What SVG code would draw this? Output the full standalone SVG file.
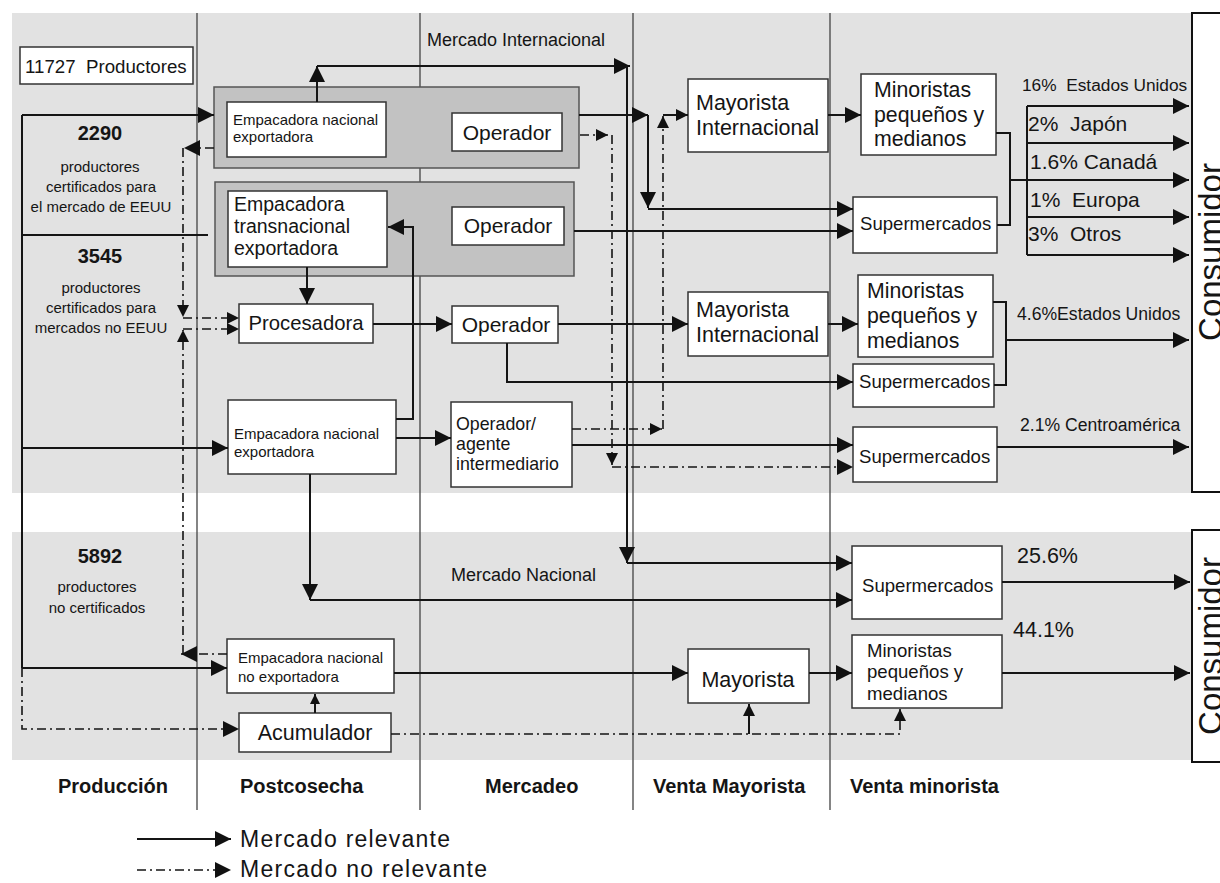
<svg xmlns="http://www.w3.org/2000/svg" width="1220" height="883" viewBox="0 0 1220 883">
<style>
text{font-family:"Liberation Sans",Arial,sans-serif;fill:#151515}
.band{fill:#e2e2e2}
.col{stroke:#444;stroke-width:1.3;fill:none}
.gb{fill:#c2c2c2;stroke:#555;stroke-width:1.5}
.wb{fill:#fff;stroke:#333;stroke-width:1.5}
.cb{fill:#fff;stroke:#111;stroke-width:2}
.s{stroke:#151515;stroke-width:2;fill:none}
.d{stroke:#151515;stroke-width:1.6;fill:none;stroke-dasharray:9 4 2 4}
.b{font-weight:bold}
.f15{font-size:15px}
.f173{font-size:17.3px}
.f176{font-size:17.6px}
.f178{font-size:17.8px}
.f18{font-size:18px}
.f186{font-size:18.6px}
.f187{font-size:18.7px}
.f195{font-size:19.5px}
.f20{font-size:20px}
.f203{font-size:20.3px}
.f21{font-size:21px}
.f213{font-size:21.3px}
.f215{font-size:21.5px}
.hd{font-size:20px;font-weight:bold}
.cons{font-size:33px}
.leg{font-size:23px}
</style>
<defs>
<marker id="ab" markerUnits="userSpaceOnUse" markerWidth="17" markerHeight="16" refX="16" refY="8" orient="auto"><path d="M0,0 L16,8 L0,16 z" fill="#111"/></marker>
<marker id="as" markerUnits="userSpaceOnUse" markerWidth="13" markerHeight="12" refX="12" refY="6" orient="auto"><path d="M0,0 L12,6 L0,12 z" fill="#111"/></marker>
<marker id="at" markerUnits="userSpaceOnUse" markerWidth="11" markerHeight="10" refX="10" refY="5" orient="auto"><path d="M0,0 L10,5 L0,10 z" fill="#111"/></marker>
</defs>

<g id="background">
<rect class="band" x="12" y="13" width="1180" height="480"/>
<rect class="band" x="12" y="532" width="1180" height="228"/>
<path class="col" d="M197,13 V810 M420,13 V810 M633,13 V810 M830,13 V810"/>
</g>

<g id="consumidor-top">
<rect class="cb" x="1192" y="13" width="40" height="479"/>
<text class="cons" transform="translate(1222,252) rotate(-90)" text-anchor="middle">Consumidor</text>
</g>
<g id="consumidor-bottom">
<rect class="cb" x="1192" y="530" width="40" height="232"/>
<text class="cons" transform="translate(1222,646) rotate(-90)" text-anchor="middle">Consumidor</text>
</g>

<g id="productores">
<rect class="wb" x="20" y="47" width="173" height="37"/>
<text class="f187" x="25" y="73">11727&#160; Productores</text>
</g>
<g id="prod-2290">
<text class="b f20" x="100" y="140" text-anchor="middle">2290</text>
<text class="f15" x="100" y="172" text-anchor="middle">productores</text>
<text class="f15" x="101" y="192" text-anchor="middle">certificados para</text>
<text class="f15" x="101" y="212" text-anchor="middle">el mercado de EEUU</text>
</g>
<g id="prod-3545">
<text class="b f20" x="100" y="263" text-anchor="middle">3545</text>
<text class="f15" x="101" y="293" text-anchor="middle">productores</text>
<text class="f15" x="101" y="313" text-anchor="middle">certificados para</text>
<text class="f15" x="101" y="333" text-anchor="middle">mercados no EEUU</text>
</g>
<g id="prod-5892">
<text class="b f20" x="100" y="563" text-anchor="middle">5892</text>
<text class="f15" x="97" y="592" text-anchor="middle">productores</text>
<text class="f15" x="97" y="613" text-anchor="middle">no certificados</text>
</g>

<g id="grupo-nacional-exp">
<rect class="gb" x="214" y="87" width="365" height="81"/>
</g>
<g id="grupo-transnacional">
<rect class="gb" x="215" y="182" width="359" height="94"/>
</g>
<g id="empacadora-nac-exp-1">
<rect class="wb" x="227" y="102" width="159" height="55"/>
<text class="f15" x="233" y="125">Empacadora nacional</text>
<text class="f15" x="233" y="142">exportadora</text>
</g>
<g id="operador-1">
<rect class="wb" x="452" y="113" width="110" height="38"/>
<text class="f21" x="507" y="140" text-anchor="middle">Operador</text>
</g>
<g id="empacadora-transnacional">
<rect class="wb" x="228" y="191" width="159" height="76"/>
<text class="f195" x="234" y="211">Empacadora</text>
<text class="f195" x="234" y="233">transnacional</text>
<text class="f195" x="234" y="255">exportadora</text>
</g>
<g id="operador-2">
<rect class="wb" x="452" y="207" width="112" height="38"/>
<text class="f21" x="508" y="233" text-anchor="middle">Operador</text>
</g>
<g id="procesadora">
<rect class="wb" x="239" y="304" width="134" height="39"/>
<text class="f203" x="306" y="330" text-anchor="middle">Procesadora</text>
</g>
<g id="operador-3">
<rect class="wb" x="452" y="306" width="106" height="37"/>
<text class="f21" x="506" y="332" text-anchor="middle">Operador</text>
</g>
<g id="empacadora-nac-exp-2">
<rect class="wb" x="228" y="400" width="168" height="74"/>
<text class="f15" x="234" y="439">Empacadora nacional</text>
<text class="f15" x="234" y="457">exportadora</text>
</g>
<g id="operador-agente">
<rect class="wb" x="451" y="402" width="121" height="85"/>
<text class="f178" x="456" y="430">Operador/</text>
<text class="f178" x="456" y="450">agente</text>
<text class="f178" x="456" y="470">intermediario</text>
</g>
<g id="mayorista-int-1">
<rect class="wb" x="688" y="79" width="140" height="73"/>
<text class="f215" x="696" y="110">Mayorista</text>
<text class="f215" x="696" y="135">Internacional</text>
</g>
<g id="mayorista-int-2">
<rect class="wb" x="688" y="292" width="140" height="64"/>
<text class="f215" x="696" y="317">Mayorista</text>
<text class="f215" x="696" y="342">Internacional</text>
</g>
<g id="minoristas-1">
<rect class="wb" x="861" y="74" width="135" height="81"/>
<text class="f213" x="874" y="97">Minoristas</text>
<text class="f213" x="874" y="122">pequeños y</text>
<text class="f213" x="874" y="146">medianos</text>
</g>
<g id="supermercados-1">
<rect class="wb" x="853" y="197" width="144" height="56"/>
<text class="f186" x="860" y="230">Supermercados</text>
</g>
<g id="minoristas-2">
<rect class="wb" x="858" y="275" width="135" height="82"/>
<text class="f213" x="867" y="298">Minoristas</text>
<text class="f213" x="867" y="323">pequeños y</text>
<text class="f213" x="867" y="348">medianos</text>
</g>
<g id="supermercados-2">
<rect class="wb" x="853" y="364" width="141" height="43"/>
<text class="f186" x="859" y="388">Supermercados</text>
</g>
<g id="supermercados-3">
<rect class="wb" x="853" y="427" width="144" height="55"/>
<text class="f186" x="859" y="463">Supermercados</text>
</g>
<g id="supermercados-4">
<rect class="wb" x="852" y="546" width="150" height="73"/>
<text class="f186" x="862" y="592">Supermercados</text>
</g>
<g id="minoristas-3">
<rect class="wb" x="852" y="635" width="150" height="73"/>
<text class="f186" x="867" y="657">Minoristas</text>
<text class="f186" x="867" y="678">pequeños y</text>
<text class="f186" x="867" y="700">medianos</text>
</g>
<g id="empacadora-nac-no-exp">
<rect class="wb" x="227" y="639" width="167" height="54"/>
<text class="f15" x="238" y="663">Empacadora nacional</text>
<text class="f15" x="238" y="682">no exportadora</text>
</g>
<g id="acumulador">
<rect class="wb" x="239" y="713" width="152" height="39"/>
<text class="f215" x="315" y="740" text-anchor="middle">Acumulador</text>
</g>
<g id="mayorista">
<rect class="wb" x="688" y="649" width="121" height="54"/>
<text class="f215" x="748" y="687" text-anchor="middle">Mayorista</text>
</g>

<g id="connectors">
<path class="s" d="M22,115 V668 M22,235 H208"/>
<path class="s" d="M22,115 H214" marker-end="url(#ab)"/>
<path class="s" d="M22,448 H228" marker-end="url(#ab)"/>
<path class="s" d="M22,668 H227" marker-end="url(#ab)"/>
<path class="s" d="M317,102 V66" marker-end="url(#ab)"/>
<path class="s" d="M317,66 H630" marker-end="url(#ab)"/>
<path class="s" d="M627,66 V563" marker-end="url(#ab)"/>
<path class="s" d="M627,563 H852" marker-end="url(#ab)"/>
<path class="s" d="M579,115 H648" marker-end="url(#ab)"/>
<path class="s" d="M648,115 V208" marker-end="url(#ab)"/>
<path class="s" d="M648,209 H853" marker-end="url(#ab)"/>
<path class="s" d="M663,115 H688" marker-end="url(#as)"/>
<path class="s" d="M574,231 H853" marker-end="url(#ab)"/>
<path class="s" d="M307,267 V304" marker-end="url(#ab)"/>
<path class="s" d="M396,419 H413 V227 H388" marker-end="url(#ab)"/>
<path class="s" d="M373,324 H452" marker-end="url(#ab)"/>
<path class="s" d="M558,324 H688" marker-end="url(#ab)"/>
<path class="s" d="M507,343 V382 H853" marker-end="url(#ab)"/>
<path class="s" d="M396,438 H451" marker-end="url(#ab)"/>
<path class="s" d="M572,445 H853" marker-end="url(#ab)"/>
<path class="s" d="M310,474 V600" marker-end="url(#ab)"/>
<path class="s" d="M310,600 H852" marker-end="url(#ab)"/>
<path class="s" d="M315,713 V694" marker-end="url(#at)"/>
<path class="s" d="M394,673 H688" marker-end="url(#ab)"/>
<path class="s" d="M809,673 H852" marker-end="url(#ab)"/>
<path class="s" d="M1002,582 H1190" marker-end="url(#ab)"/>
<path class="s" d="M1002,673 H1190" marker-end="url(#ab)"/>
<path class="s" d="M828,115 H861" marker-end="url(#ab)"/>
<path class="s" d="M828,324 H858" marker-end="url(#ab)"/>
<path class="s" d="M996,133 H1010 V225 H997 M1010,180 H1027 M1027,106 V255"/>
<path class="s" d="M1027,106 H1189" marker-end="url(#ab)"/>
<path class="s" d="M1027,143 H1189" marker-end="url(#ab)"/>
<path class="s" d="M1027,180 H1189" marker-end="url(#ab)"/>
<path class="s" d="M1027,217 H1189" marker-end="url(#ab)"/>
<path class="s" d="M1027,255 H1189" marker-end="url(#ab)"/>
<path class="s" d="M993,302 H1006 V385 H994"/>
<path class="s" d="M1006,340 H1189" marker-end="url(#ab)"/>
<path class="s" d="M997,447 H1189" marker-end="url(#ab)"/>
<path class="s" d="M749,734 V704" marker-end="url(#as)"/>

<path class="d" d="M214,148 H184" marker-end="url(#ab)"/>
<path class="d" d="M183,148 V317" marker-end="url(#as)"/>
<path class="d" d="M183,318 H239" marker-end="url(#as)"/>
<path class="d" d="M183,654 V330" marker-end="url(#as)"/>
<path class="d" d="M183,329 H239" marker-end="url(#as)"/>
<path class="d" d="M227,654 H181" marker-end="url(#ab)"/>
<path class="d" d="M22,668 V729 H239" marker-end="url(#ab)"/>
<path class="d" d="M391,734 H900 V709" marker-end="url(#as)"/>
<path class="d" d="M580,135 H608" marker-end="url(#as)"/>
<path class="d" d="M612,135 V465" marker-end="url(#as)"/>
<path class="d" d="M612,467 H853" marker-end="url(#ab)"/>
<path class="d" d="M572,429 H662" marker-end="url(#as)"/>
<path class="d" d="M663,429 V116" marker-end="url(#as)"/>
</g>

<g id="labels">
<text class="f18" x="427" y="46">Mercado Internacional</text>
<text class="f18" x="451" y="581">Mercado Nacional</text>
<text class="f173" x="1022" y="91">16%&#160; Estados Unidos</text>
<text class="f21" x="1028" y="131">2%&#160; Japón</text>
<text class="f21" x="1030" y="169">1.6% Canadá</text>
<text class="f21" x="1030" y="207">1%&#160; Europa</text>
<text class="f21" x="1028" y="241">3%&#160; Otros</text>
<text class="f176" x="1017" y="320">4.6%Estados Unidos</text>
<text class="f176" x="1020" y="431">2.1% Centroamérica</text>
<text class="f215" x="1017" y="563">25.6%</text>
<text class="f215" x="1013" y="637">44.1%</text>
</g>

<g id="column-headers">
<text class="hd" x="58" y="793">Producción</text>
<text class="hd" x="240" y="793">Postcosecha</text>
<text class="hd" x="485" y="793">Mercadeo</text>
<text class="hd" x="653" y="793">Venta Mayorista</text>
<text class="hd" x="850" y="793">Venta minorista</text>
</g>

<g id="legend">
<path class="s" d="M137,839 H231" marker-end="url(#ab)"/>
<path class="d" d="M137,870 H231" marker-end="url(#ab)"/>
<text class="leg" x="240" y="847" textLength="210">Mercado relevante</text>
<text class="leg" x="240" y="877" textLength="247">Mercado no relevante</text>
</g>
</svg>
